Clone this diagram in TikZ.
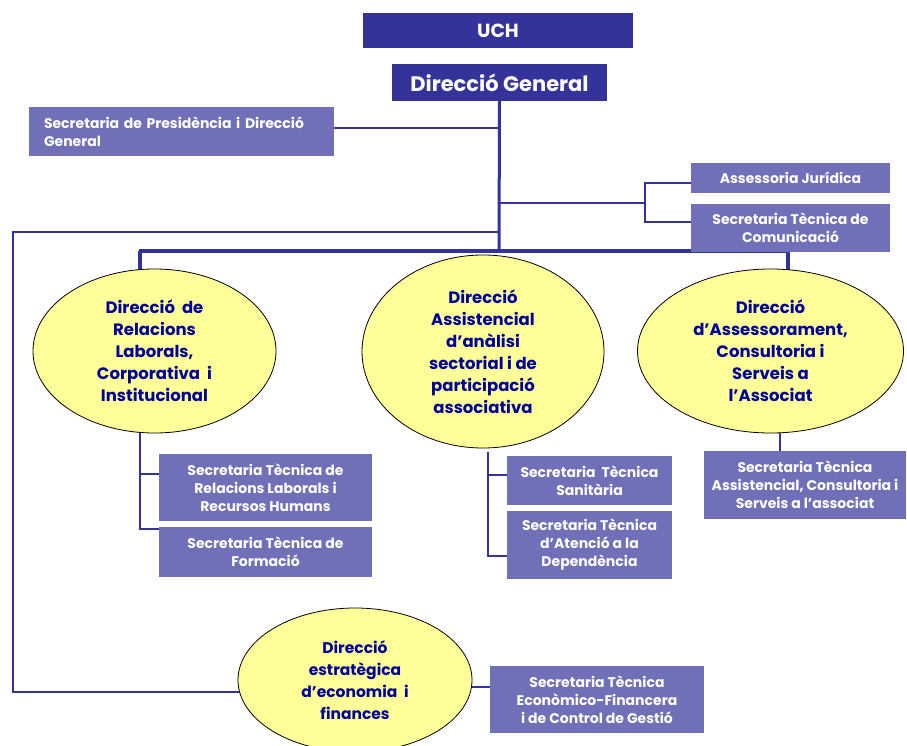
\documentclass[tikz,border=0pt]{standalone}
\usepackage{fontspec}
\setmainfont{Poppins}
\usetikzlibrary{shapes.geometric,backgrounds}
\definecolor{dkblue}{HTML}{333399}
\definecolor{ltbox}{HTML}{7070B8}
\definecolor{ellfill}{HTML}{FFFF99}
\definecolor{elltext}{HTML}{000099}
\tikzset{
 topbox/.style={fill=dkblue, text=white, font=\bfseries\fontsize{19}{22}\selectfont, inner sep=0pt, align=center},
 subbox/.style={fill=ltbox, text=white, font=\bfseries\fontsize{14}{18}\selectfont, inner sep=0pt, align=center},
 direll/.style={ellipse, draw=black, line width=0.8pt, fill=ellfill, text=elltext, font=\bfseries\fontsize{16.5}{22}\selectfont, inner sep=0pt, align=center},
 conn/.style={draw=dkblue, line width=2.5pt},
 mainbar/.style={draw=dkblue, line width=4pt},
}
\begin{document}
\begin{tikzpicture}[x=1pt,y=-1pt]
\useasboundingbox (0,0) rectangle (907,746);
% top boxes
\node[topbox, minimum width=270pt, minimum height=35pt] (uch) at (498,30.5) {UCH};
\node[topbox, minimum width=215pt, minimum height=37pt, font=\bfseries\fontsize{21}{24}\selectfont] (dg) at (499.5,82.5) {Direcció General};
\node[subbox, minimum width=305pt, minimum height=49pt, text width=275pt, align=left] (sp) at (181.5,131.5) {Secretaria de Presidència i Direcció\\General};
\node[subbox, minimum width=199pt, minimum height=30pt] (aj) at (790.5,178) {Assessoria Jurídica};
\node[subbox, minimum width=199pt, minimum height=48pt] (stc) at (790.5,228) {Secretaria Tècnica de\\Comunicació};
% ellipses
\node[direll, minimum width=243pt, minimum height=164pt] (e1) at (154.5,351) {Direcció\ \ de\\Relacions\\Laborals,\\Corporativa\ \ i\\Institucional};
\node[direll, minimum width=242pt, minimum height=193pt] (e2) at (483,351.5) {Direcció\\Assistencial\\d’anàlisi\\sectorial i de\\participació\\associativa};
\node[direll, minimum width=266pt, minimum height=164pt] (e3) at (770.5,351) {Direcció\\d’Assessorament,\\Consultoria i\\Serveis a\\l’Associat};
\node[direll, minimum width=234pt, minimum height=144pt, font=\bfseries\fontsize{15.5}{22}\selectfont] (e4) at (355,680) {Direcció\\estratègica\\d’economia\ \ i\\finances};
% sub boxes
\node[subbox, minimum width=213pt, minimum height=67pt] (rl) at (265.5,487.5) {Secretaria Tècnica de\\Relacions Laborals i\\Recursos Humans};
\node[subbox, minimum width=213pt, minimum height=50pt] (fo) at (265.5,552) {Secretaria Tècnica de\\Formació};
\node[subbox, minimum width=165pt, minimum height=49pt] (sa) at (589.5,480.5) {Secretaria\ \ Tècnica\\Sanitària};
\node[subbox, minimum width=165pt, minimum height=68pt] (de) at (589.5,545) {Secretaria Tècnica\\d’Atenció a la\\Dependència};
\node[subbox, minimum width=202pt, minimum height=68pt] (as) at (805,485) {Secretaria Tècnica\\Assistencial, Consultoria i\\Serveis a l’associat};
\node[subbox, minimum width=214pt, minimum height=67pt] (ef) at (597,699.5) {Secretaria Tècnica\\Econòmico-Financera\\i de Control de Gestió};
% connectors
\coordinate (tbot) at (499,251);
\coordinate (tsp) at (499,128);
\coordinate (tr) at (499,203);
\coordinate (rj) at (645,203);
\coordinate (rja) at (645,183);
\coordinate (rjb) at (645,222);
\coordinate (tl) at (499,232);
\coordinate (lc1) at (13,232);
\coordinate (lc2) at (13,692);
\coordinate (e4l) at (240,692);
\coordinate (bl) at (140,251);
\coordinate (br) at (788,251);
\coordinate (e1t) at (140,271);
\coordinate (e3t) at (788,272);
\coordinate (e1b) at (140,431);
\coordinate (e1v) at (140,529);
\coordinate (e1r) at (140,474);
\coordinate (e2b) at (488,452);
\coordinate (e2v) at (488,556);
\coordinate (e2r) at (488,475);
\coordinate (e3b) at (780,432);
\coordinate (e4r) at (471,687);
\begin{scope}[on background layer]
\draw[conn, line width=3pt] (dg.south) -- (tbot);
\draw[conn] (tsp) -- (tsp -| sp.east);
\draw[conn] (tr) -- (rj);
\draw[conn] (rja -| aj.west) -- (rja) -- (rjb) -- (rjb -| stc.west);
\draw[conn] (tl) -- (lc1) -- (lc2) -- (e4l);
\draw[mainbar] ([xshift=-1.5pt]bl) -- ([xshift=2pt]br);
\draw[conn, line width=3.5pt] (bl) -- (e1t);
\draw[conn, line width=3.5pt] (br) -- (e3t);
\draw[conn] (e1b) -- (e1v) -- (e1v -| fo.west);
\draw[conn] (e1r) -- (e1r -| rl.west);
\draw[conn] (e2b) -- (e2v) -- (e2v -| de.west);
\draw[conn] (e2r) -- (e2r -| sa.west);
\draw[conn] (e3b) -- (e3b |- as.north);
\draw[conn] (e4r) -- (e4r -| ef.west);
\end{scope}
\end{tikzpicture}
\end{document}
